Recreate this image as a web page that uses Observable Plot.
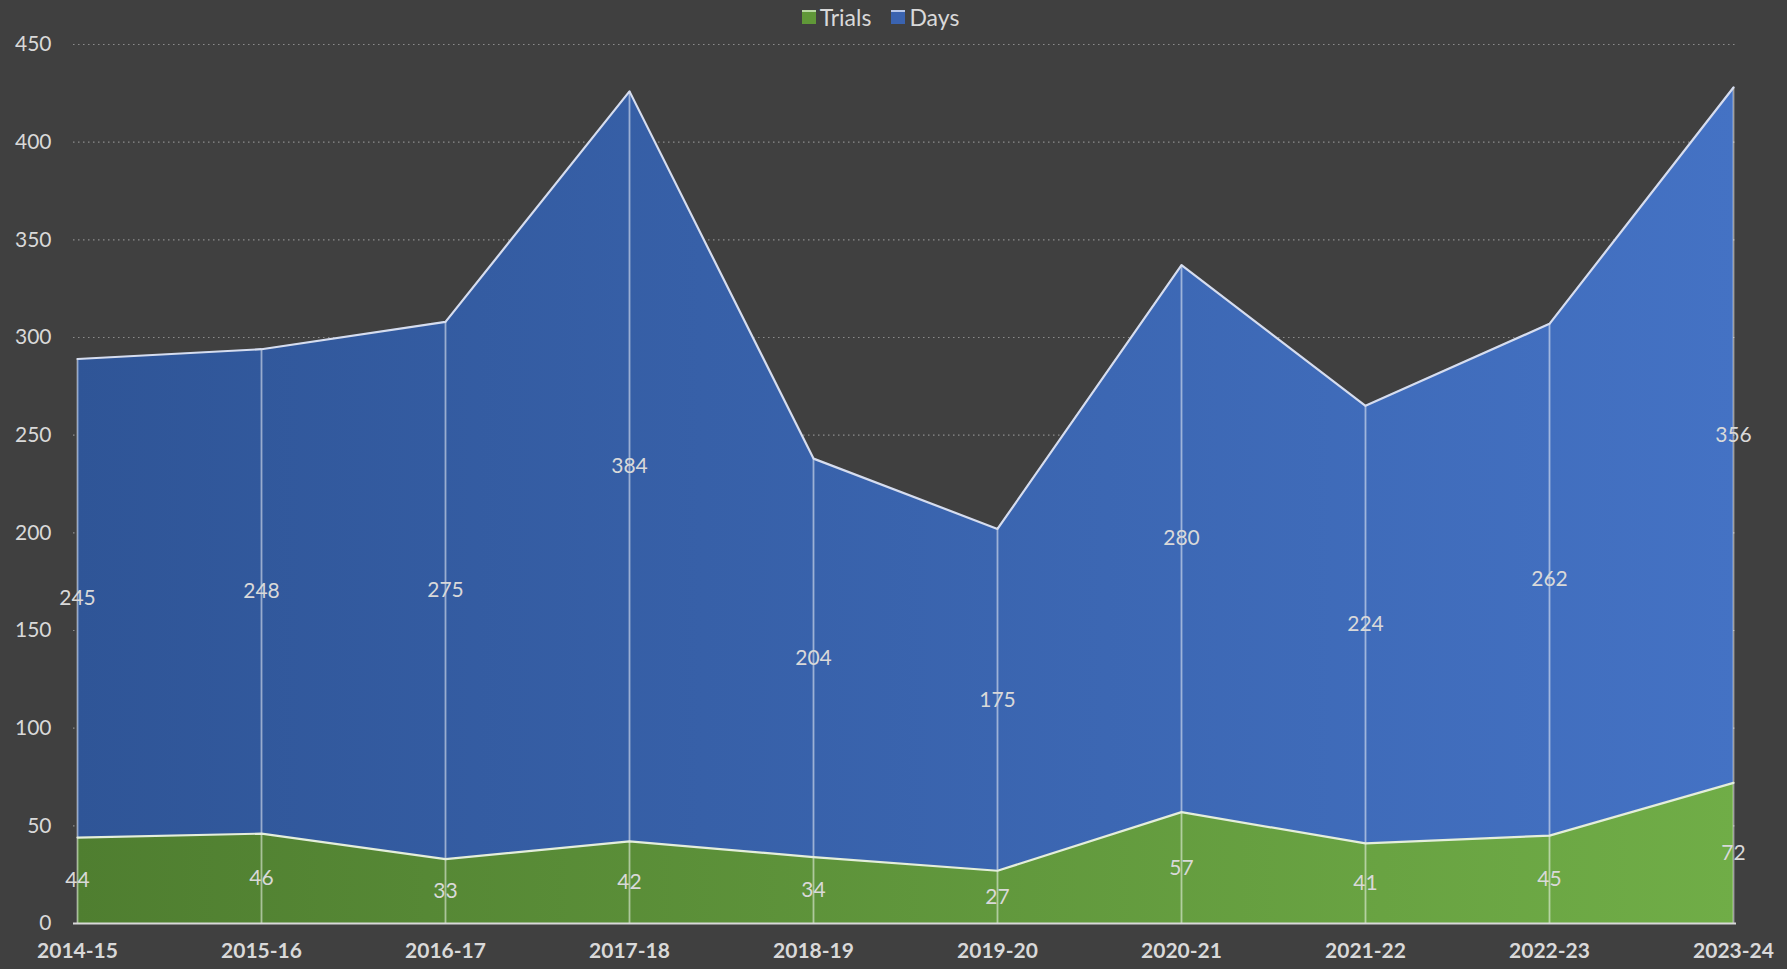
<!DOCTYPE html>
<html>
<head>
<meta charset="utf-8">
<script src="https://cdn.jsdelivr.net/npm/d3@7"></script>
<script src="https://cdn.jsdelivr.net/npm/@observablehq/plot@0.6"></script>
<style>
  html, body { margin: 0; padding: 0; background: #404040; }
  body { width: 1787px; height: 969px; overflow: hidden; font-family: Lato, "Open Sans", sans-serif; }
  #legend { height: 34px; display: flex; justify-content: center; align-items: center; color: #d9d9d9; font-size: 23px; padding-right: 26px; box-sizing: border-box; }
  .item { display: flex; align-items: center; margin: 0 10px; }
  .sw { width: 14px; height: 12px; margin-right: 4px; border-top: 2px solid; }
</style>
</head>
<body>
<div id="legend"></div>
<div id="chart"></div>
<script>
const years = ["2014-15","2015-16","2016-17","2017-18","2018-19","2019-20","2020-21","2021-22","2022-23","2023-24"];
const trials = [44, 46, 33, 42, 34, 27, 57, 41, 45, 72];
const days = [245, 248, 275, 384, 204, 175, 280, 224, 262, 356];
const yTicks = [0, 50, 100, 150, 200, 250, 300, 350, 400, 450];
const seriesNames = ["Trials", "Days"];
const greenStops = ["#4f7e30", "#70ad47"];
const blueStops = ["#2f5597", "#4472c4"];

const rows = years.map((y, i) => ({year: y, trials: trials[i], days: days[i], total: trials[i] + days[i]}));

// legend
const legend = document.getElementById("legend");
[[seriesNames[0], "#609838", "#b9d9a3"], [seriesNames[1], "#3a63b0", "#b8c8ea"]].forEach(([name, c, top]) => {
  const it = document.createElement("div");
  it.className = "item";
  const sw = document.createElement("span");
  sw.className = "sw";
  sw.style.background = c;
  sw.style.borderTopColor = top;
  const tx = document.createElement("span");
  tx.textContent = name;
  it.append(sw, tx);
  legend.append(it);
});

const W = 1787, H = 935, ML = 73, MR = 51, MT = 10, MB = 46;

const defs = () => {
  const d = d3.create("svg:defs");
  const mk = (id, stops) => {
    const g = d.append("linearGradient").attr("id", id).attr("gradientUnits", "userSpaceOnUse")
      .attr("x1", ML).attr("x2", W - MR).attr("y1", 0).attr("y2", 0);
    g.append("stop").attr("offset", "0%").attr("stop-color", stops[0]);
    g.append("stop").attr("offset", "100%").attr("stop-color", stops[1]);
  };
  mk("gGreen", greenStops);
  mk("gBlue", blueStops);
  return d.node();
};

const chart = Plot.plot({
  width: W,
  height: H,
  marginLeft: ML,
  marginRight: MR,
  marginTop: MT,
  marginBottom: MB,
  style: {background: "#404040", color: "#d9d9d9", fontFamily: "Lato, 'Open Sans', sans-serif", overflow: "visible"},
  x: {type: "point", domain: years, padding: 0},
  y: {domain: [0, 450]},
  marks: [
    defs,
    Plot.gridY(yTicks.filter(d => d > 0), {stroke: "#8c8c8c", strokeOpacity: 1, strokeDasharray: "1.5,3.5", strokeWidth: 1.2}),
    Plot.areaY(rows, {x: "year", y1: 0, y2: "trials", fill: "url(#gGreen)", curve: "linear"}),
    Plot.areaY(rows, {x: "year", y1: "trials", y2: "total", fill: "url(#gBlue)", curve: "linear"}),
    Plot.ruleX(rows, {x: "year", y1: 0, y2: "total", stroke: "#ffffff", strokeOpacity: 0.5, strokeWidth: 1.8}),
    Plot.lineY(rows, {x: "year", y: "trials", stroke: "#e4eedc", strokeWidth: 2.2}),
    Plot.lineY(rows, {x: "year", y: "total", stroke: "#d6ddef", strokeWidth: 2.2}),
    Plot.ruleY([0], {stroke: "#d9d9d9", strokeWidth: 2}),
    Plot.text(rows, {x: "year", y: d => d.trials / 2, text: d => String(d.trials), fill: "#d9d9d9", fontSize: 21}),
    Plot.text(rows, {x: "year", y: d => d.trials + d.days / 2, text: d => String(d.days), fill: "#d9d9d9", fontSize: 21}),
    Plot.axisY({ticks: yTicks, tickSize: 0, tickPadding: 22, fontSize: 21, fill: "#d9d9d9", label: null}),
    Plot.axisX({tickSize: 0, tickPadding: 20, fontSize: 21, fontWeight: "bold", fill: "#d9d9d9", label: null})
  ]
});
document.getElementById("chart").append(chart);
</script>
</body>
</html>
